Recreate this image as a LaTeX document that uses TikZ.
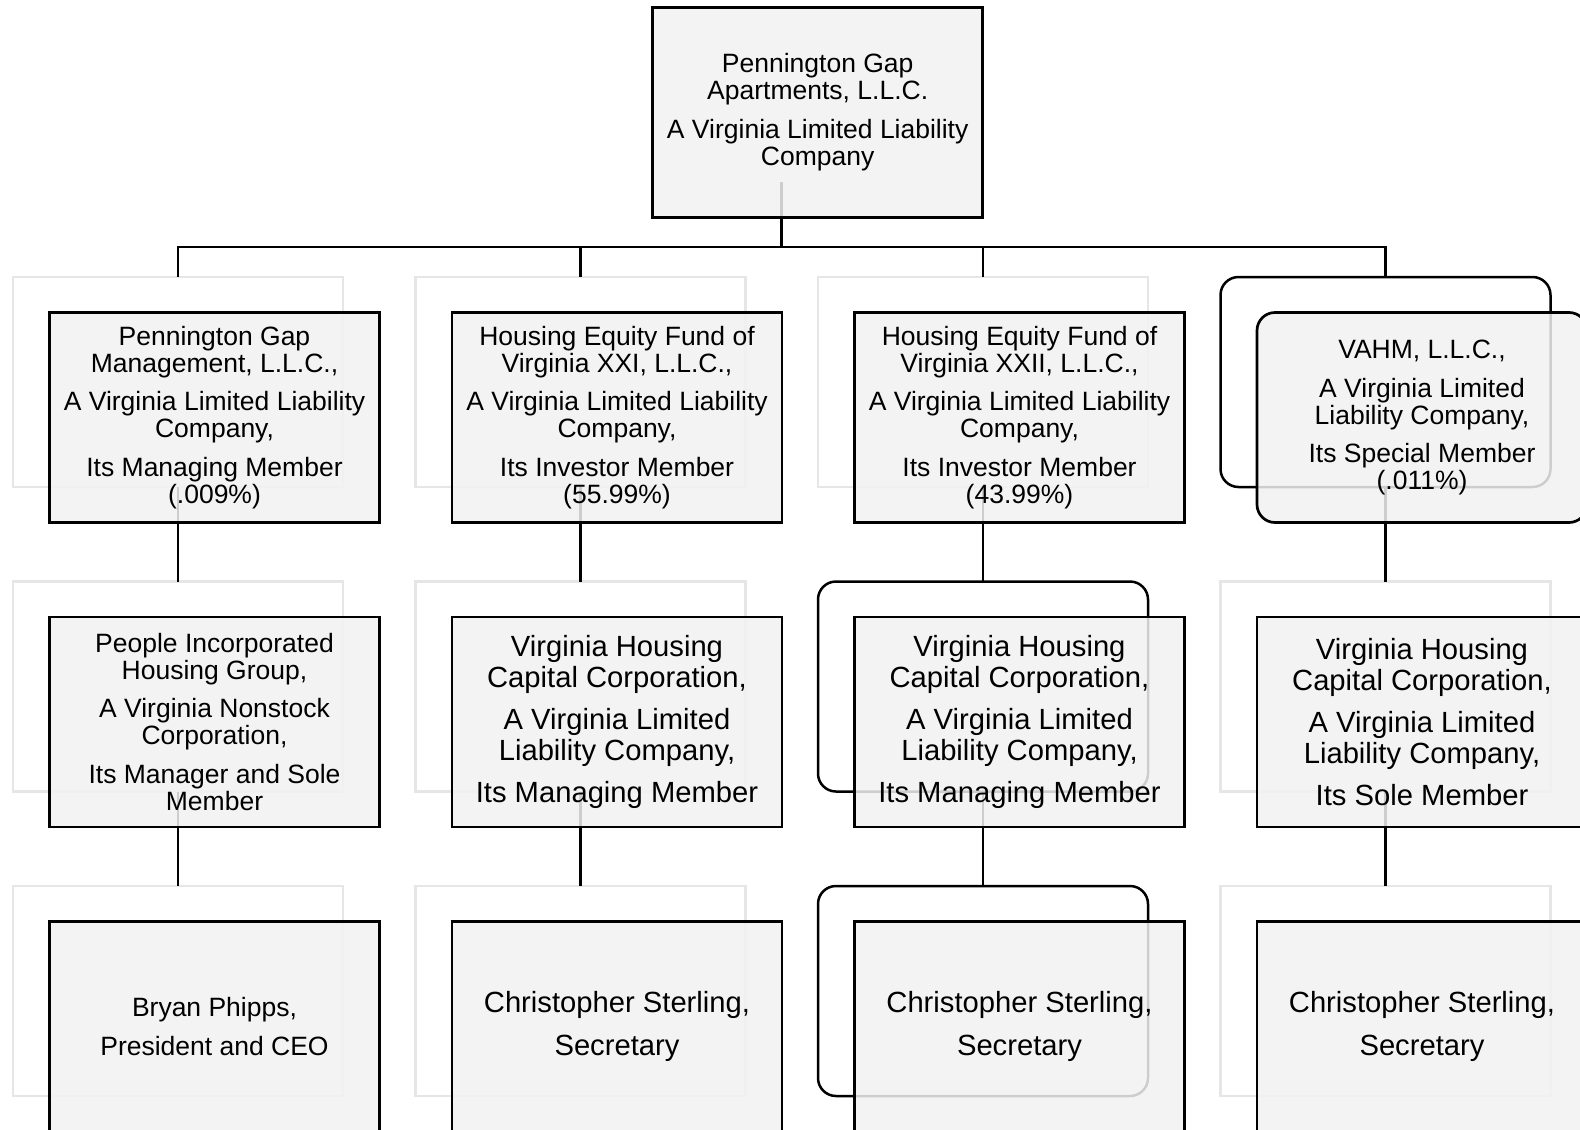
\documentclass[tikz,border=0pt]{standalone}
\usepackage{fontspec}
\setmainfont{Liberation Sans}
\definecolor{boxfill}{HTML}{F2F2F2}
\definecolor{backgray}{HTML}{E6E6E6}
\begin{document}
\begin{tikzpicture}[x=1pt,y=-1pt,
  box/.style={minimum width=330pt, minimum height=210pt, inner sep=0pt, outer sep=0pt, anchor=north west, align=center},
  front/.style={box, draw=black, line width=2.7pt, fill=boxfill, fill opacity=0.85, text opacity=1},
  back/.style={box, draw=backgray, line width=2.5pt, fill=white},
  backround/.style={back, draw=black, rounded corners=18pt},
  conn/.style={draw=black, line width=2.6pt},
  fs/.style={font=\fontsize{26.5}{27}\selectfont},
  fl/.style={font=\fontsize{29.2}{31}\selectfont}
]
\useasboundingbox (0,0) rectangle (1580,1130);
\clip (0,0) rectangle (1580,1130);
\fill[white] (0,0) rectangle (1580,1130);

% back shapes
\node[box] (b0) at (616.7,-27.7) {};
\node[back] (b11) at (13,277) {};
\node[back] (b12) at (415.5,277) {};
\node[back] (b13) at (818,277) {};
\node[backround] (b14) at (1220.5,277) {};
\node[back] (b21) at (13,581.5) {};
\node[back] (b22) at (415.5,581.5) {};
\node[backround] (b23) at (818,581.5) {};
\node[back] (b24) at (1220.5,581.5) {};
\node[back] (b31) at (13,886) {};
\node[back] (b32) at (415.5,886) {};
\node[backround] (b33) at (818,886) {};
\node[back] (b34) at (1220.5,886) {};

% connectors
\coordinate (bus) at (0,247);
\draw[conn] (b0.south) -- (b0.south |- bus) -| (b11.north);
\draw[conn] (b0.south |- bus) -| (b12.north);
\draw[conn] (b0.south |- bus) -| (b13.north);
\draw[conn] (b0.south |- bus) -| (b14.north);
\draw[conn] (b11.south) -- (b21.north);
\draw[conn] (b12.south) -- (b22.north);
\draw[conn] (b13.south) -- (b23.north);
\draw[conn] (b14.south) -- (b24.north);
\draw[conn] (b21.south) -- (b31.north);
\draw[conn] (b22.south) -- (b32.north);
\draw[conn] (b23.south) -- (b33.north);
\draw[conn] (b24.south) -- (b34.north);

% front boxes
\node[front,fs] (f0) at (652.7,7.3) {Pennington Gap\\Apartments, L.L.C.\\[11.5pt]A Virginia Limited Liability\\Company};
\node[front,fs] (f11) at (49.5,312.5) {Pennington Gap\\Management, L.L.C.,\\[11.5pt]A Virginia Limited Liability\\Company,\\[11.5pt]Its Managing Member\\(.009\%)};
\node[front,fs] (f12) at (452,312.5) {Housing Equity Fund of\\Virginia XXI, L.L.C.,\\[11.5pt]A Virginia Limited Liability\\Company,\\[11.5pt]Its Investor Member\\(55.99\%)};
\node[front,fs] (f13) at (854.5,312.5) {Housing Equity Fund of\\Virginia XXII, L.L.C.,\\[11.5pt]A Virginia Limited Liability\\Company,\\[11.5pt]Its Investor Member\\(43.99\%)};
\node[front,fs,rounded corners=18pt] (f14) at (1257,312.5) {VAHM, L.L.C.,\\[11.5pt]A Virginia Limited\\Liability Company,\\[11.5pt]Its Special Member\\(.011\%)};
\node[front,fs] (f21) at (49.5,617) {People Incorporated\\Housing Group,\\[11.5pt]A Virginia Nonstock\\Corporation,\\[11.5pt]Its Manager and Sole\\Member};
\node[front,fl] (f22) at (452,617) {Virginia Housing\\Capital Corporation,\\[11pt]A Virginia Limited\\Liability Company,\\[11pt]Its Managing Member};
\node[front,fl] (f23) at (854.5,617) {Virginia Housing\\Capital Corporation,\\[11pt]A Virginia Limited\\Liability Company,\\[11pt]Its Managing Member};
\node[front,fl] (f24) at (1257,617) {Virginia Housing\\Capital Corporation,\\[11pt]A Virginia Limited\\Liability Company,\\[11pt]Its Sole Member};
\node[front,fs] (f31) at (49.5,921.5) {Bryan Phipps,\\[11.5pt]President and CEO};
\node[front,fl] (f32) at (452,921.5) {Christopher Sterling,\\[12.5pt]Secretary};
\node[front,fl] (f33) at (854.5,921.5) {Christopher Sterling,\\[12.5pt]Secretary};
\node[front,fl] (f34) at (1257,921.5) {Christopher Sterling,\\[12.5pt]Secretary};
\end{tikzpicture}
\end{document}
